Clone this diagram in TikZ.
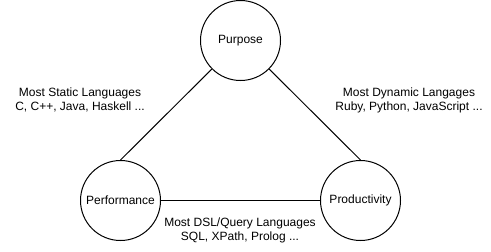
\documentclass[tikz,border=0pt]{standalone}
\usepackage{fontspec}
\setmainfont{Liberation Sans}
\usetikzlibrary{positioning, calc}
\tikzset{
  goal/.style   ={draw, circle, minimum size=60pt, inner sep=0pt, line width=0.75pt,
                  font=\fontsize{9pt}{10.5pt}\selectfont},
  family/.style ={align=center, inner sep=0pt, font=\fontsize{9pt}{10.5pt}\selectfont},
  edge/.style   ={line width=0.75pt}
}
\begin{document}
\begin{tikzpicture}[x=0.75pt, y=-0.75pt]
      \useasboundingbox (0,0) rectangle (491,251);
      % the three goals
      \node[goal] (purpose) at (240.5,40.5)  {Purpose};
      \node[goal] (perf)    at (120.5,200.5) {Performance};
      \node[goal] (prod)    at (360.5,200.5) {Productivity};
      % trade-off sides
      \draw[edge] (purpose) -- (perf.north);
      \draw[edge] (purpose) -- (prod.north);
      \draw[edge] (perf) -- (prod);
      % language families
      \node[family] (static)  at (80,100)  {Most Static Languages\\C, C++, Java, Haskell ...};
      \node[family] (dynamic) at (409,100) {Most Dynamic Langages\\Ruby, Python, JavaScript ...};
      \node[family] (dsl)     at (240,230) {Most DSL/Query Languages\\SQL, XPath, Prolog ...};
    \end{tikzpicture}
\end{document}
